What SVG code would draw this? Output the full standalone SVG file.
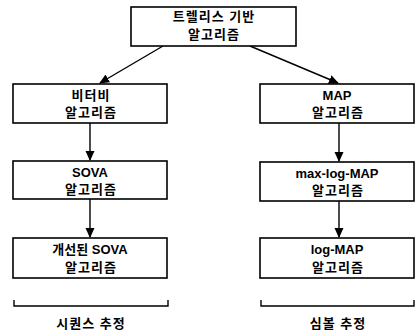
<svg xmlns="http://www.w3.org/2000/svg" width="417" height="334" viewBox="0 0 417 334">
<style>
.box{fill:#fff;stroke:#000;stroke-width:1.6}
.t{font-family:"Liberation Sans","Noto Sans CJK KR",sans-serif;font-size:13px;font-weight:bold;text-anchor:middle;fill:#000}
.k{letter-spacing:1px}
.c{stroke:#000;stroke-width:1.4;fill:none}
</style>
<defs>
<marker id="ah" markerWidth="10" markerHeight="10" refX="9" refY="5" orient="auto" markerUnits="userSpaceOnUse">
<path d="M0,0.5 L10,5 L0,9.5 Z" fill="#000"/>
</marker>
</defs>
<rect width="417" height="334" fill="#fff"/>
<g id="connectors">
<line class="c" x1="163" y1="46" x2="100" y2="83" marker-end="url(#ah)"/>
<line class="c" x1="250" y1="46" x2="338" y2="83" marker-end="url(#ah)"/>
<line class="c" x1="90" y1="123" x2="90" y2="160" marker-end="url(#ah)"/>
<line class="c" x1="90" y1="199" x2="90" y2="237" marker-end="url(#ah)"/>
<line class="c" x1="339" y1="123" x2="339" y2="161" marker-end="url(#ah)"/>
<line class="c" x1="339" y1="201" x2="339" y2="237" marker-end="url(#ah)"/>
</g>
<g id="trellis">
<rect class="box" x="131" y="7" width="165" height="39"/>
<text class="t k" x="214" y="21">트렐리스 기반</text>
<text class="t k" x="214" y="39">알고리즘</text>
</g>
<g id="viterbi">
<rect class="box" x="13" y="84" width="154" height="39"/>
<text class="t k" x="91" y="100">비터비</text>
<text class="t k" x="91" y="117">알고리즘</text>
</g>
<g id="sova">
<rect class="box" x="13" y="161" width="154" height="38"/>
<text class="t" x="90" y="177">SOVA</text>
<text class="t k" x="91" y="194">알고리즘</text>
</g>
<g id="improved-sova">
<rect class="box" x="13" y="238" width="154" height="40"/>
<text class="t" x="90" y="254">개선된 SOVA</text>
<text class="t k" x="91" y="272">알고리즘</text>
</g>
<g id="map">
<rect class="box" x="260" y="84" width="154" height="39"/>
<text class="t" x="337" y="100">MAP</text>
<text class="t k" x="338" y="117">알고리즘</text>
</g>
<g id="max-log-map">
<rect class="box" x="260" y="162" width="154" height="39"/>
<text class="t" x="337" y="178">max-log-MAP</text>
<text class="t k" x="338" y="195">알고리즘</text>
</g>
<g id="log-map">
<rect class="box" x="260" y="238" width="154" height="40"/>
<text class="t" x="337" y="254">log-MAP</text>
<text class="t k" x="338" y="272">알고리즘</text>
</g>
<g id="sequence-est">
<path class="c" d="M14,300 V306 H168 V300"/>
<text class="t k" x="91" y="328">시퀀스 추정</text>
</g>
<g id="symbol-est">
<path class="c" d="M261,300 V306 H414 V300"/>
<text class="t k" x="338" y="328">심볼 추정</text>
</g>
</svg>
